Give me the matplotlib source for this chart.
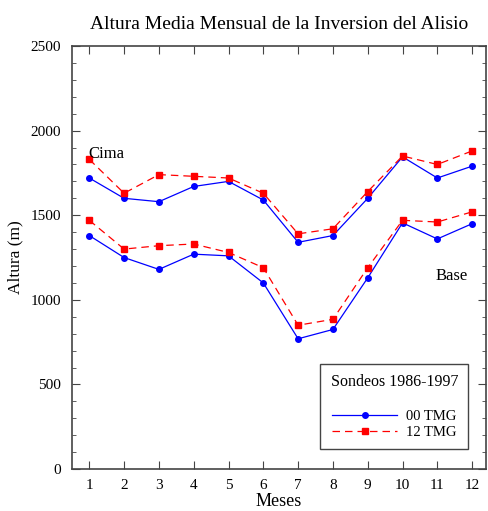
import matplotlib
matplotlib.use('Agg')
import matplotlib.pyplot as plt
from matplotlib.ticker import MultipleLocator

plt.rcParams['font.family'] = ['Liberation Serif', 'DejaVu Serif']

meses = [1, 2, 3, 4, 5, 6, 7, 8, 9, 10, 11, 12]
cima_00 = [1720, 1600, 1580, 1670, 1700, 1590, 1340, 1380, 1600, 1845, 1720, 1790]
cima_12 = [1830, 1630, 1740, 1730, 1720, 1630, 1390, 1420, 1640, 1850, 1800, 1880]
base_00 = [1380, 1250, 1180, 1270, 1260, 1100, 770, 825, 1130, 1455, 1360, 1450]
base_12 = [1470, 1300, 1320, 1330, 1280, 1190, 850, 885, 1190, 1470, 1460, 1520]

fig = plt.figure(figsize=(4.89, 5.11), dpi=100)
ax = fig.add_axes([0.147, 0.082, 0.847, 0.828])

ax.plot(meses, cima_00, color='blue', lw=0.9, marker='o', ms=4, label='00 TMG')
ax.plot(meses, cima_12, color='red', lw=0.9, ls=(0, (6, 4)), marker='s', ms=4, label='12 TMG')
ax.plot(meses, base_00, color='blue', lw=0.9, marker='o', ms=4)
ax.plot(meses, base_12, color='red', lw=0.9, ls=(0, (6, 4)), marker='s', ms=4)

ax.set_xlim(0.5, 12.4)
ax.set_ylim(0, 2500)
ax.set_xticks(meses)
ax.yaxis.set_major_locator(MultipleLocator(500))
ax.yaxis.set_minor_locator(MultipleLocator(100))
ax.tick_params(direction='in', top=True, right=True, which='both', labelsize=11, color='#444444')
ax.tick_params(which='major', length=6)
ax.tick_params(which='minor', length=3)
ax.tick_params(axis='y', pad=8)
ax.tick_params(axis='x', pad=7)
for s in ax.spines.values():
    s.set_color('#444444')
    s.set_linewidth(1.2)

ax.text(0.97, 1840, 'Cima', fontsize=12)
ax.text(10.95, 1120, 'Base', fontsize=12)

ax.set_title('Altura Media Mensual de la Inversion del Alisio', fontsize=14, pad=12)
ax.set_xlabel('Meses', fontsize=13, labelpad=0.5)
ax.set_ylabel('Altura (m)', fontsize=12.5, labelpad=5)

leg = ax.legend(title='Sondeos 1986-1997', loc='lower right', bbox_to_anchor=(0.957, 0.047),
                borderaxespad=0, fontsize=10.5, title_fontsize=11.5, handlelength=4.5,
                handletextpad=0.6, fancybox=False, edgecolor='#444444', framealpha=1,
                borderpad=0.7, labelspacing=0.2)
leg.get_frame().set_linewidth(1.0)
leg._legend_box.sep = 14

fig.savefig('out.png', dpi=100)
